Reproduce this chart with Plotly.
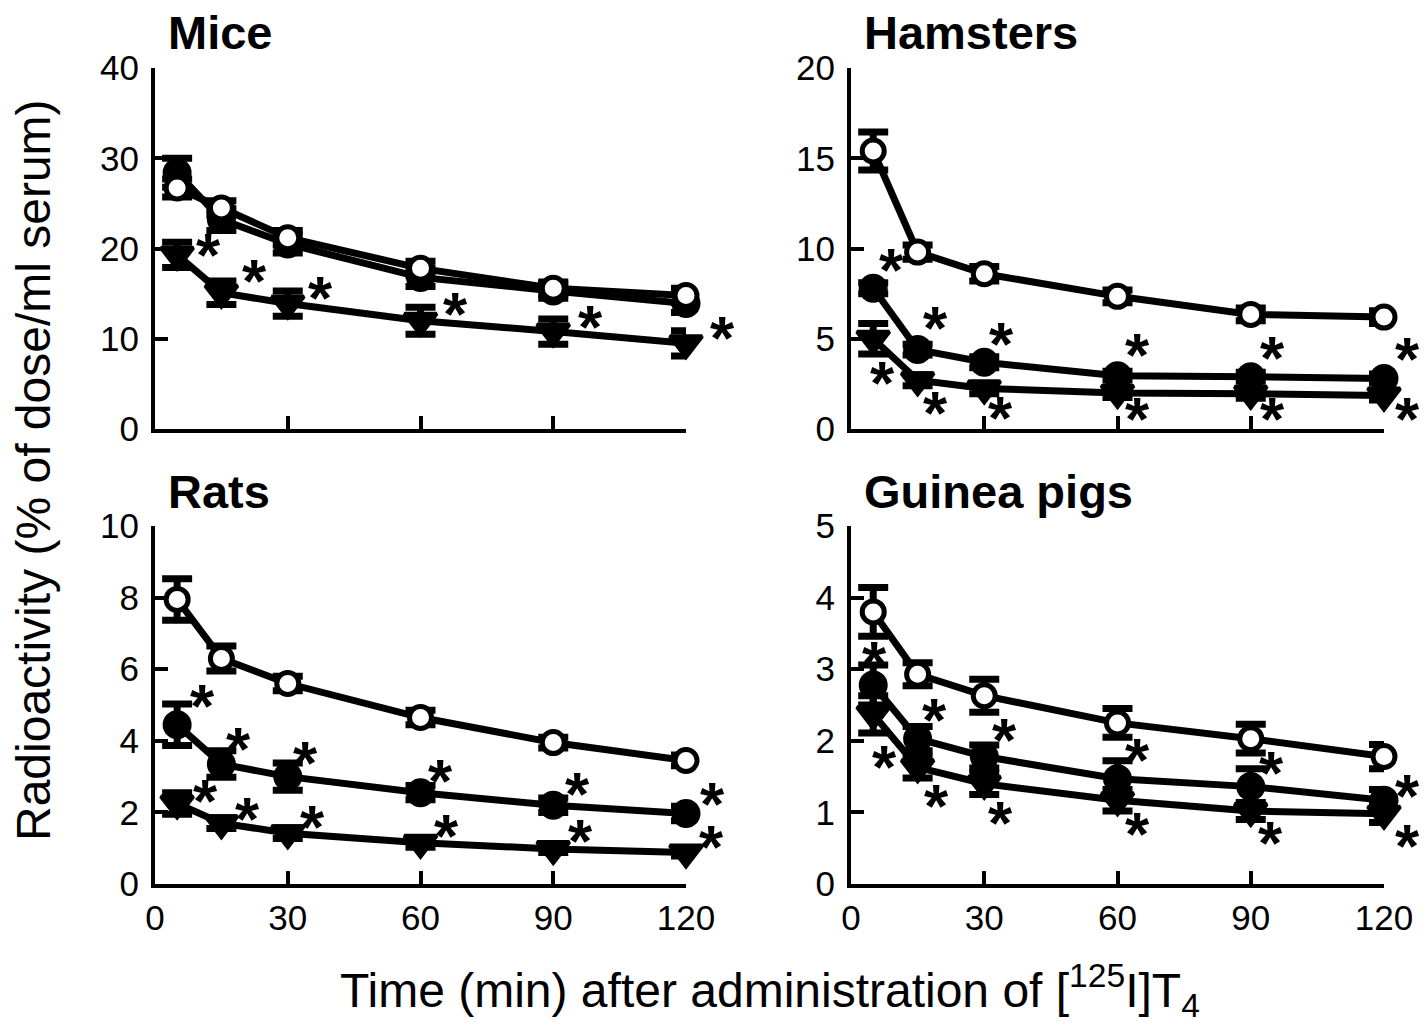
import plotly.graph_objects as go

# Sampling times (min) after tracer injection
TIME = [5, 15, 30, 60, 90, 120]
X_TICKS = [0, 30, 60, 90, 120]

# Serum radioactivity, % of dose/ml serum (mean and SEM)
MICE_CTRL = [26.7, 24.5, 21.2, 17.8, 15.6, 14.8]
MICE_CTRL_SEM = [1.0, 0.8, 0.8, 0.8, 0.7, 0.8]
MICE_CIRC = [28.4, 23.2, 20.5, 16.8, 15.3, 13.9]
MICE_CIRC_SEM = [1.6, 1.2, 1.0, 1.0, 0.8, 1.0]
MICE_TRI = [19.3, 15.1, 13.9, 12.0, 10.8, 9.5]
MICE_TRI_SEM = [1.4, 1.3, 1.4, 1.5, 1.4, 1.4]

HAM_CTRL = [15.4, 9.8, 8.6, 7.35, 6.35, 6.2]
HAM_CTRL_SEM = [1.05, 0.4, 0.4, 0.35, 0.35, 0.35]
HAM_CIRC = [7.8, 4.4, 3.7, 2.95, 2.9, 2.8]
HAM_CIRC_SEM = [0.3, 0.3, 0.3, 0.25, 0.25, 0.25]
HAM_TRI = [5.0, 2.7, 2.25, 2.0, 1.95, 1.85]
HAM_TRI_SEM = [0.85, 0.3, 0.3, 0.25, 0.25, 0.25]

RAT_CTRL = [7.95, 6.3, 5.6, 4.65, 3.95, 3.45]
RAT_CTRL_SEM = [0.58, 0.35, 0.2, 0.2, 0.15, 0.15]
RAT_CIRC = [4.45, 3.35, 3.0, 2.55, 2.2, 1.97]
RAT_CIRC_SEM = [0.58, 0.37, 0.38, 0.2, 0.2, 0.2]
RAT_TRI = [2.25, 1.7, 1.42, 1.15, 0.98, 0.88]
RAT_TRI_SEM = [0.3, 0.15, 0.15, 0.12, 0.1, 0.1]

GP_CTRL = [3.8, 2.93, 2.63, 2.25, 2.03, 1.78]
GP_CTRL_SEM = [0.34, 0.16, 0.23, 0.2, 0.2, 0.17]
GP_CIRC = [2.78, 2.03, 1.78, 1.47, 1.36, 1.17]
GP_CIRC_SEM = [0.28, 0.17, 0.16, 0.25, 0.25, 0.15]
GP_TRI = [2.37, 1.63, 1.4, 1.17, 1.02, 0.98]
GP_TRI_SEM = [0.26, 0.15, 0.15, 0.15, 0.12, 0.12]

# Points flagged as significantly different from control
MICE_CIRC_SIG = [False] * 6
MICE_TRI_SIG = [True] * 6
HAM_CIRC_SIG = [True] * 6
HAM_TRI_SIG = [True] * 6
RAT_CIRC_SIG = [True] * 6
RAT_TRI_SIG = [True] * 6
GP_CIRC_SIG = [True] * 6
GP_TRI_SIG = [True] * 6

W, H = 1426, 1029
FONT = "Liberation Sans, Arial, sans-serif"
BLACK = "black"

# pixel frames of each panel: (left, right) and (top, bottom);
# *_star: screen offset (dx right, dy down) of each significance mark
PANELS = [
    dict(title="Mice", ymax=40, dtick=10, xpx=(155, 686), ypx=(68, 429), xlabels=False,
         ctrl=(MICE_CTRL, MICE_CTRL_SEM), circ=(MICE_CIRC, MICE_CIRC_SEM, MICE_CIRC_SIG),
         tri=(MICE_TRI, MICE_TRI_SEM, MICE_TRI_SIG),
         circ_star=[(20, -26)] * 6,
         tri_star=[(31, -8), (33, -20), (33, -14), (35, -15), (37, -13), (36, -14)]),
    dict(title="Hamsters", ymax=20, dtick=5, xpx=(851, 1384), ypx=(68, 429), xlabels=False,
         ctrl=(HAM_CTRL, HAM_CTRL_SEM), circ=(HAM_CIRC, HAM_CIRC_SEM, HAM_CIRC_SIG),
         tri=(HAM_TRI, HAM_TRI_SEM, HAM_TRI_SIG),
         circ_star=[(18, -27), (18, -30), (17, -27), (20, -29), (22, -27), (23, -28)],
         tri_star=[(9, 36), (18, 24), (16, 21), (20, 18), (22, 17), (23, 15)]),
    dict(title="Rats", ymax=10, dtick=2, xpx=(155, 686), ypx=(526, 884), xlabels=True,
         ctrl=(RAT_CTRL, RAT_CTRL_SEM), circ=(RAT_CIRC, RAT_CIRC_SEM, RAT_CIRC_SIG),
         tri=(RAT_TRI, RAT_TRI_SEM, RAT_TRI_SIG),
         circ_star=[(25, -27), (17, -24), (18, -22), (20, -20), (24, -20), (26, -18)],
         tri_star=[(28, -11), (26, -13), (25, -15), (26, -15), (27, -16), (25, -14)]),
    dict(title="Guinea pigs", ymax=5, dtick=1, xpx=(851, 1384), ypx=(526, 884), xlabels=True,
         ctrl=(GP_CTRL, GP_CTRL_SEM), circ=(GP_CIRC, GP_CIRC_SEM, GP_CIRC_SIG),
         tri=(GP_TRI, GP_TRI_SEM, GP_TRI_SIG),
         circ_star=[(1, -30), (17, -27), (20, -25), (20, -27), (21, -22), (23, -13)],
         tri_star=[(11, 44), (19, 30), (16, 31), (20, 25), (20, 24), (23, 24)]),
]

LINE_W = 7
STAR_SIZE = 62
STAR_LIFT = 8  # asterisk glyph sits this far above its text-box centre
TICK_FONT = 35

fig = go.Figure()
annotations = []


def err(arr):
    return dict(type="data", array=arr, visible=True, color=BLACK, thickness=7, width=15)


for i, p in enumerate(PANELS, start=1):
    xa, ya = f"x{i}", f"y{i}"
    l, r = p["xpx"]
    t, b = p["ypx"]
    fig.update_layout({
        f"xaxis{i}": dict(
            domain=[l / W, r / W], range=[0, 120], anchor=ya,
            showline=True, linewidth=4, linecolor=BLACK, mirror=False,
            ticks="inside", ticklen=13, tickwidth=4, tickcolor=BLACK,
            tickvals=X_TICKS, showticklabels=p["xlabels"],
            tickfont=dict(family=FONT, size=TICK_FONT, color=BLACK),
            showgrid=False, zeroline=False, fixedrange=True),
        f"yaxis{i}": dict(
            domain=[1 - b / H, 1 - t / H], range=[0, p["ymax"]], anchor=xa,
            showline=True, linewidth=4, linecolor=BLACK,
            ticks="inside", ticklen=13, tickwidth=4, tickcolor=BLACK,
            tick0=0, dtick=p["dtick"], ticklabelstandoff=5,
            tickfont=dict(family=FONT, size=TICK_FONT, color=BLACK),
            showgrid=False, zeroline=False, fixedrange=True),
    })

    tri_y, tri_e, tri_sig = p["tri"]
    circ_y, circ_e, circ_sig = p["circ"]
    ctrl_y, ctrl_e = p["ctrl"]

    fig.add_trace(go.Scatter(
        x=TIME, y=tri_y, xaxis=xa, yaxis=ya, mode="lines+markers",
        line=dict(color=BLACK, width=LINE_W),
        marker=dict(symbol="triangle-down", size=28, color=BLACK,
                    line=dict(color=BLACK, width=4)),
        error_y=err(tri_e), cliponaxis=False, showlegend=False))
    fig.add_trace(go.Scatter(
        x=TIME, y=circ_y, xaxis=xa, yaxis=ya, mode="lines+markers",
        line=dict(color=BLACK, width=LINE_W),
        marker=dict(symbol="circle", size=29, color=BLACK),
        error_y=err(circ_e), cliponaxis=False, showlegend=False))
    fig.add_trace(go.Scatter(
        x=TIME, y=ctrl_y, xaxis=xa, yaxis=ya, mode="lines+markers",
        line=dict(color=BLACK, width=LINE_W),
        marker=dict(symbol="circle", size=22, color="white",
                    line=dict(color=BLACK, width=5)),
        error_y=err(ctrl_e), cliponaxis=False, showlegend=False))

    for vals, sig, offs in ((circ_y, circ_sig, p["circ_star"]), (tri_y, tri_sig, p["tri_star"])):
        for tt, v, s, (dx, dy) in zip(TIME, vals, sig, offs):
            if not s:
                continue
            annotations.append(dict(
                xref=xa, yref=ya, x=tt, y=v, text="<b>*</b>", showarrow=False,
                xshift=dx, yshift=-(dy + STAR_LIFT),
                font=dict(family=FONT, size=STAR_SIZE, color=BLACK)))

    annotations.append(dict(
        xref="paper", yref="paper", x=(l + 11) / W, y=1 - (t - 35) / H,
        xanchor="left", yanchor="middle", text=f"<b>{p['title']}</b>",
        showarrow=False, font=dict(family=FONT, size=47, color=BLACK)))

annotations.append(dict(
    xref="paper", yref="paper", x=33 / W, y=1 - 470 / H, textangle=-90,
    text="Radioactivity (% of dose/ml serum)", showarrow=False,
    xanchor="center", yanchor="middle",
    font=dict(family=FONT, size=48, color=BLACK)))
annotations.append(dict(
    xref="paper", yref="paper", x=770 / W, y=1 - 990 / H,
    text="Time (min) after administration of [<sup>125</sup>I]T<sub>4</sub>",
    showarrow=False, xanchor="center", yanchor="middle",
    font=dict(family=FONT, size=48, color=BLACK)))

fig.update_layout(
    width=W, height=H, margin=dict(l=0, r=0, t=0, b=0, autoexpand=False),
    paper_bgcolor="white", plot_bgcolor="white",
    annotations=annotations, showlegend=False)

fig.write_html("out.html", config={"displayModeBar": False})
